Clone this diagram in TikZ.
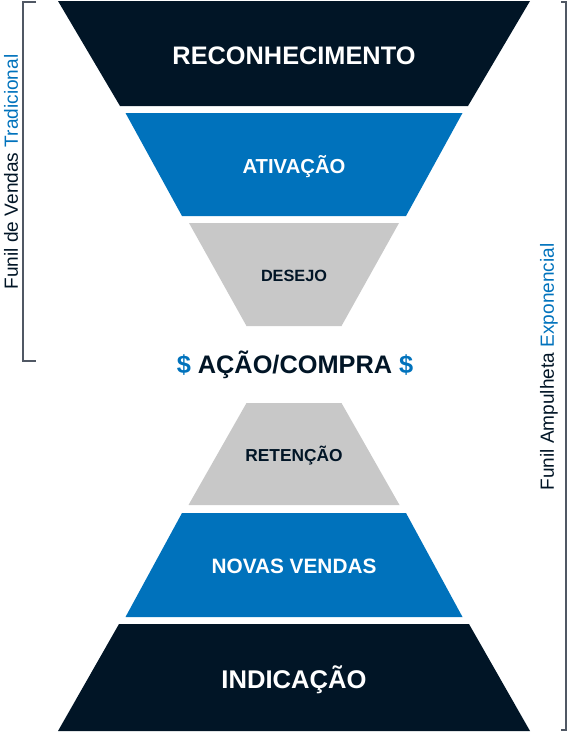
\documentclass[tikz,border=0pt]{standalone}
\usepackage{fontspec}
\setmainfont{Liberation Sans}
\usetikzlibrary{positioning}
\definecolor{night}{RGB}{1,21,38}
\definecolor{cobalt}{RGB}{0,114,188}
\definecolor{fog}{RGB}{200,200,200}
\definecolor{slate}{RGB}{80,88,100}
\tikzset{
  x=0.75pt,y=-0.75pt,
  level/.style={font=\bfseries\fontsize{#1}{#1}\selectfont,align=center,anchor=base},
  level/.default=15,
  side/.style={rotate=90,font=\fontsize{14.3}{14.3}\selectfont,text=night},
  bracket/.style={draw=slate,line width=1pt},
}
\begin{document}
\begin{tikzpicture}
  \useasboundingbox (0,0) rectangle (567,732);
  % funnel levels: name/top y/bottom y/top half width/bottom half width/fill/text colour/text/size
  \foreach \n/\ya/\yb/\wa/\wb/\c/\tc/\t/\s in {
      rec/1/106/236/174/night/white/RECONHECIMENTO/19,
      ativ/113/216/168.5/112/cobalt/white/ATIVAÇÃO/15.2,
      des/223/326/105/47.5/fog/night/DESEJO/12.2,
      ret/403/505/47.5/105.5/fog/night/RETENÇÃO/13,
      nov/513/617/112/168.5/cobalt/white/NOVAS VENDAS/15.6,
      ind/624/731/175/236/night/white/INDICAÇÃO/19.2}{
    \fill[\c] (294-\wa,\ya) -- (294+\wa,\ya) -- (294+\wb,\yb) -- (294-\wb,\yb) -- cycle;
    \node[level=\s,text=\tc] (\n) at (294,{(\ya+\yb)/2+1.5+0.477*\s}) {\t};
  }
  % centre
  \node[level=19,text=night] (buy) at (295,{364.5+0.477*19}) {\textcolor{cobalt}{\$} AÇÃO/COMPRA \textcolor{cobalt}{\$}};
  % brackets
  \draw[bracket] (36,2) -- (23,2) -- (23,361) -- (36,361);
  \draw[bracket] (561,2) -- (566,2) -- (566,730) -- (561,730);
  \node[side] (trad) at (11,172) {Funil de Vendas \textcolor{cobalt}{Tradicional}};
  \node[side] (amp) at (549,367) {Funil Ampulheta \textcolor{cobalt}{Exponencial}};
\end{tikzpicture}
\end{document}
